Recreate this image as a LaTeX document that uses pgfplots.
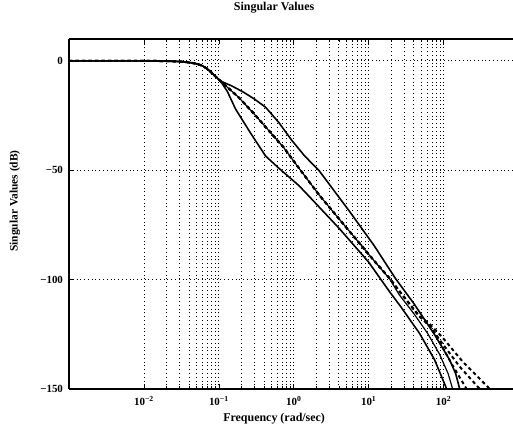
\documentclass[border=0pt]{standalone}
\usepackage{fontspec}
\setmainfont{Liberation Serif}
\usepackage{pgfplots}
\pgfplotsset{compat=1.18}

\begin{document}
\begin{tikzpicture}
\path[use as bounding box] (-69bp,-39bp) rectangle (444bp,389bp);
\begin{axis}[
  at={(0,0)}, anchor=south west,
  scale only axis, width=444bp, height=350bp,
  xmode=log, xmin=1e-3, xmax=844, ymin=-150, ymax=10,
  axis x line*=box, axis y line*=left,
  axis line style={line width=1.1pt},
  xtick={1e-2,1e-1,1,10,100},
  xticklabels={10\textsuperscript{−2},10\textsuperscript{−1},10\textsuperscript{0},10\textsuperscript{1},10\textsuperscript{2}},
  ytick={-150,-100,-50,0},
  yticklabels={−150,−100,−50,0},
  tick align=inside,
  major tick length=5bp, minor tick length=3bp,
  tick style={black, line width=0.6pt},
  xmajorgrids, xminorgrids, ymajorgrids,
  grid style={black, line width=0.8pt, dash pattern=on 0.8pt off 3pt},
  minor grid style={black, line width=0.8pt, dash pattern=on 0.8pt off 3pt},
  xticklabel style={font=\bfseries\fontsize{11}{13}\selectfont, yshift=-3.5bp},
  yticklabel style={font=\bfseries\fontsize{11}{13}\selectfont, xshift=-2.5bp},
  title={Singular Values},
  title style={at={(axis description cs:0.462,1.071)}, anchor=center, font=\bfseries\fontsize{12}{14}\selectfont},
  xlabel={Frequency (rad/sec)},
  xlabel style={at={(axis description cs:0.462,-0.084)}, anchor=center, font=\bfseries\fontsize{12}{14}\selectfont},
  ylabel={Singular Values (dB)},
  ylabel style={at={(axis description cs:-0.122,0.537)}, anchor=center, font=\bfseries\fontsize{11.5}{14}\selectfont},
  clip=true,
]
% upper solid
\addplot[black, line width=1.6pt] coordinates {
  (0.001,0) (0.01,0) (0.02,-0.1) (0.03,-0.3) (0.04,-0.7) (0.05,-1.3) (0.06,-2.2)
  (0.07,-3.6) (0.08,-5.4) (0.09,-7.1) (0.1,-8.5) (0.105,-9.2)
  (0.15,-11.5) (0.213,-14.3) (0.3,-17.5) (0.421,-21.2) (0.629,-28.1) (0.94,-36.3)
  (1.4,-43.5) (2.17,-50.1) (5.47,-68.5) (11.9,-84.6) (22.7,-99.4) (40.8,-111.3)
  (75.7,-125.1) (120,-136.6) (145,-143) (164,-150) (175,-155)};
% lower solid
\addplot[black, line width=1.6pt] coordinates {
  (0.001,0) (0.01,0) (0.02,-0.1) (0.03,-0.3) (0.04,-0.7) (0.05,-1.3) (0.06,-2.2)
  (0.07,-3.6) (0.08,-5.4) (0.09,-7.1) (0.1,-8.5) (0.105,-9.2)
  (0.13,-14) (0.167,-22) (0.265,-33) (0.421,-43.5) (0.629,-49) (1.17,-57)
  (1.59,-61.8) (4.02,-76.5) (10,-92) (18.8,-105.3) (25.7,-111.5) (47.6,-124.5)
  (75.7,-136.6) (110,-150) (118,-155)};
% middle solid
\addplot[black, line width=1.2pt] coordinates {
  (0.001,0) (0.01,0) (0.02,-0.1) (0.03,-0.3) (0.04,-0.7) (0.05,-1.3) (0.06,-2.2)
  (0.07,-3.6) (0.08,-5.4) (0.09,-7.1) (0.1,-8.5) (0.105,-9.2)
  (0.183,-16.6) (0.29,-23.9) (0.46,-31.7) (0.734,-39.6) (1.17,-49) (2.17,-61.2)
  (5.47,-77.7) (11.9,-91.5) (19,-99.6) (25.7,-107) (40,-115.5) (61,-124.5)
  (88,-134) (115,-143) (132,-150) (140,-155)};
% dashed
\addplot[black, line width=2pt, dash pattern=on 3.5pt off 3pt] coordinates {
  (0.001,0) (0.01,0) (0.02,-0.1) (0.03,-0.3) (0.04,-0.7) (0.05,-1.3) (0.06,-2.2)
  (0.07,-3.6) (0.08,-5.4) (0.09,-7.1) (0.1,-8.5) (0.105,-9.2)
  (0.183,-16.6) (0.29,-23.9) (0.46,-31.7) (0.734,-39.6) (1.17,-49) (2.17,-61.2)
  (5.47,-77.7) (11.9,-91.5) (19,-99.4) (25.7,-105.3) (47.6,-116.8)
  (64,-121) (80.5,-126) (128,-138.5) (203,-150) (230,-153)};
\addplot[black, line width=2pt, dash pattern=on 3.5pt off 3pt] coordinates {
  (0.001,0) (0.01,0) (0.02,-0.1) (0.03,-0.3) (0.04,-0.7) (0.05,-1.3) (0.06,-2.2)
  (0.07,-3.6) (0.08,-5.4) (0.09,-7.1) (0.1,-8.5) (0.105,-9.2)
  (0.183,-16.6) (0.29,-23.9) (0.46,-31.7) (0.734,-39.6) (1.17,-49) (2.17,-61.2)
  (5.47,-77.7) (11.9,-91.5) (19,-99.4) (25.7,-105.3) (47.6,-116.8)
  (64,-120.5) (88,-127.4) (164,-139.8) (304,-150) (340,-152)};
\addplot[black, line width=2pt, dash pattern=on 3.5pt off 3pt] coordinates {
  (0.001,0) (0.01,0) (0.02,-0.1) (0.03,-0.3) (0.04,-0.7) (0.05,-1.3) (0.06,-2.2)
  (0.07,-3.6) (0.08,-5.4) (0.09,-7.1) (0.1,-8.5) (0.105,-9.2)
  (0.183,-16.6) (0.29,-23.9) (0.46,-31.7) (0.734,-39.6) (1.17,-49) (2.17,-61.2)
  (5.47,-77.7) (11.9,-91.5) (19,-99.4) (25.7,-105.3) (47.6,-116.8)
  (64,-120) (97,-126.5) (180,-137.5) (414,-150) (460,-152)};
\end{axis}
\end{tikzpicture}
\end{document}
